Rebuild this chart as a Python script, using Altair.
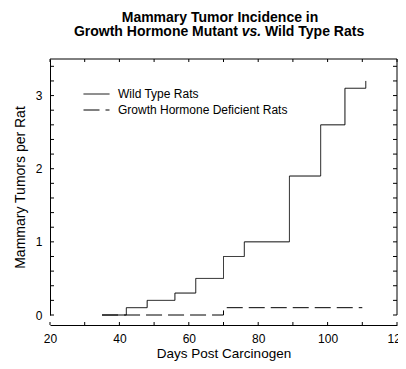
import altair as alt
import pandas as pd

# ---- data ----
wt_days = [35, 42, 48, 56, 62, 70, 76, 89, 98, 105, 111]
wt_tumors = [0, 0.1, 0.2, 0.3, 0.5, 0.8, 1.0, 1.9, 2.6, 3.1, 3.2]
gh_days = [35, 70, 110]
gh_tumors = [0, 0.1, 0.1]
series_names = ["Wild Type Rats", "Growth Hormone Deficient Rats"]

x_tick_values = [20, 30, 40, 50, 60, 70, 80, 90, 100, 110, 120]
x_label_values = [20, 40, 60, 80, 100, 120]
y_tick_values = [0, 0.2, 0.4, 0.6, 0.8, 1.0, 1.2, 1.4, 1.6, 1.8, 2.0,
                 2.2, 2.4, 2.6, 2.8, 3.0, 3.2, 3.4]
y_label_values = [0, 1, 2, 3]

title_line1 = "Mammary Tumor Incidence in"
title_line2 = ["Growth Hormone Mutant", "vs.", "Wild Type Rats"]
x_title = "Days Post Carcinogen"
y_title = "Mammary Tumors per Rat"

# ---- layout ----
W, H = 347, 256
FONT = "Liberation Sans"
TICK = 4

df = pd.DataFrame({
    "day": wt_days + gh_days,
    "tumors": wt_tumors + gh_tumors,
    "series": [series_names[0]] * len(wt_days) + [series_names[1]] * len(gh_days),
})
xt = pd.DataFrame({"v": x_tick_values})
yt = pd.DataFrame({"v": y_tick_values})
one = pd.DataFrame({"a": [0]})

x_scale = alt.Scale(domain=[20, 120], nice=False, zero=False)
y_scale = alt.Scale(domain=[0, 3.5], nice=False, zero=False)

lines = alt.Chart(df).mark_line(interpolate="step-after", strokeWidth=1, color="black").encode(
    x=alt.X("day:Q", scale=x_scale,
            axis=alt.Axis(title=x_title, values=x_label_values, format="d", ticks=False,
                          tickSize=0, offset=10, labelPadding=8, titlePadding=2,
                          titleFontSize=13.5,
                          grid=False, domainColor="black", labelFlush=False)),
    y=alt.Y("tumors:Q", scale=y_scale,
            axis=alt.Axis(title=y_title, values=y_label_values, format="d", ticks=False,
                          tickSize=0, labelPadding=8, titlePadding=8, grid=False,
                          domainColor="black")),
    strokeDash=alt.StrokeDash(
        "series:N",
        scale=alt.Scale(domain=series_names, range=[[1, 0], [16, 6]]),
        legend=alt.Legend(title=None, orient="none", legendX=39.5, legendY=28,
                          symbolType="M-2,0H2", symbolSize=169, symbolStrokeWidth=1,
                          symbolStrokeColor="black", symbolFillColor="transparent",
                          labelFontSize=12, labelFont=FONT,
                          labelColor="black", labelOffset=14.5, padding=0, rowPadding=3,
                          labelLimit=0),
    ),
)

top_border = alt.Chart(one).mark_rule(color="black").encode(
    x=alt.value(0), x2=alt.value(W), y=alt.value(0))
right_border = alt.Chart(one).mark_rule(color="black").encode(
    x=alt.value(W), y=alt.value(0), y2=alt.value(H))

left_ticks = alt.Chart(yt).mark_rule(color="black").encode(
    y=alt.Y("v:Q", scale=y_scale), x=alt.value(0), x2=alt.value(TICK))
right_ticks = alt.Chart(yt).mark_rule(color="black").encode(
    y=alt.Y("v:Q", scale=y_scale), x=alt.value(W - TICK), x2=alt.value(W))
top_ticks = alt.Chart(xt).mark_rule(color="black").encode(
    x=alt.X("v:Q", scale=x_scale), y=alt.value(0), y2=alt.value(TICK - 1))
bottom_ticks = alt.Chart(xt).mark_rule(color="black").encode(
    x=alt.X("v:Q", scale=x_scale), y=alt.value(H + 10), y2=alt.value(H + 10 - TICK + 1))

tfont = dict(font=FONT, fontSize=14, fontWeight="bold", color="black")
t1 = alt.Chart(one).mark_text(align="center", baseline="alphabetic", **tfont).encode(
    x=alt.value(170), y=alt.value(-37.5), text=alt.value(title_line1))
t2a = alt.Chart(one).mark_text(align="right", baseline="alphabetic", **tfont).encode(
    x=alt.value(188), y=alt.value(-23), text=alt.value(title_line2[0]))
t2b = alt.Chart(one).mark_text(align="center", baseline="alphabetic", fontStyle="italic", **tfont).encode(
    x=alt.value(201.5), y=alt.value(-23), text=alt.value(title_line2[1]))
t2c = alt.Chart(one).mark_text(align="left", baseline="alphabetic", **tfont).encode(
    x=alt.value(215), y=alt.value(-23), text=alt.value(title_line2[2]))

chart = alt.layer(
    lines, top_border, right_border, left_ticks, right_ticks, top_ticks, bottom_ticks,
    t1, t2a, t2b, t2c
).properties(
    width=W, height=H,
    autosize=alt.AutoSizeParams(type="none"),
    padding={"left": 42, "top": 51, "right": 1, "bottom": 46},
).configure_view(stroke=None).configure_axis(
    labelFont=FONT, labelFontSize=12, labelColor="black",
    titleFont=FONT, titleFontSize=14, titleFontWeight="normal", titleColor="black",
    domainColor="black", domainWidth=1,
)

chart.save("out.html", embed_options={"renderer": "svg", "actions": False})
